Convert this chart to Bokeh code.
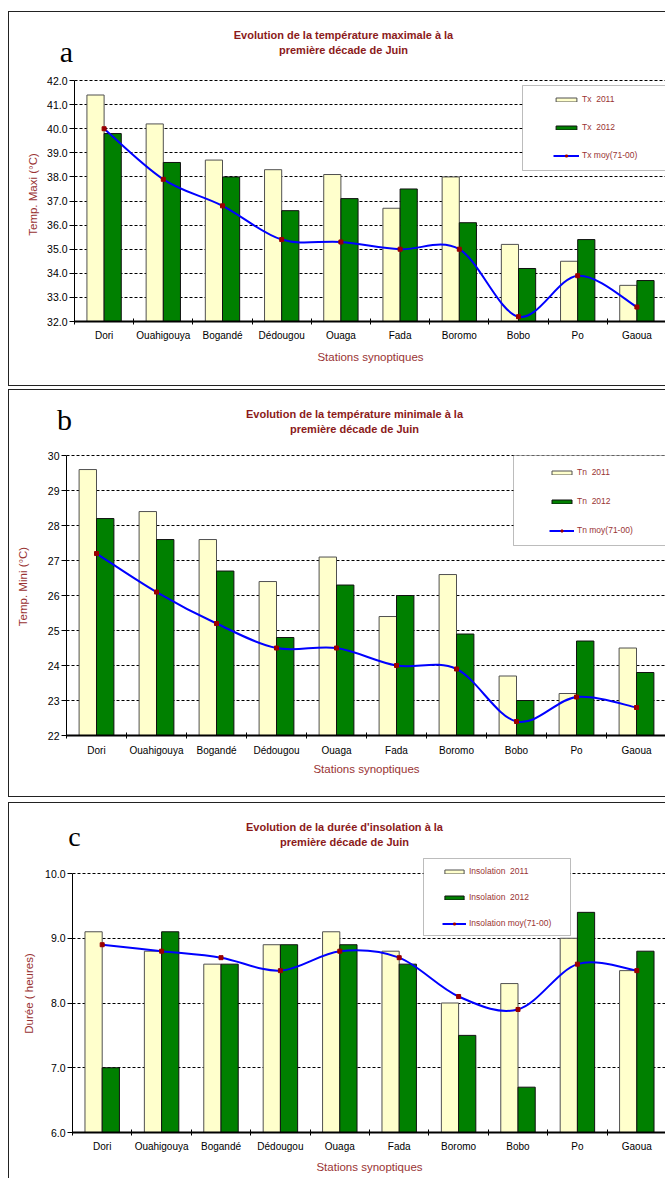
from bokeh.plotting import figure
from bokeh.layouts import column
from bokeh.models import (Range1d, FixedTicker, PrintfTickFormatter, Legend, LegendItem,
                          BoxAnnotation, Label, ColumnDataSource)
from bokeh.embed import file_html
from bokeh.resources import INLINE

# ---------------- data ----------------
stations = ["Dori", "Ouahigouya", "Bogandé", "Dédougou", "Ouaga", "Fada",
            "Boromo", "Bobo", "Po", "Gaoua"]

tx_2011 = [41.4, 40.2, 38.7, 38.3, 38.1, 36.7, 38.0, 35.2, 34.5, 33.5]
tx_2012 = [39.8, 38.6, 38.0, 36.6, 37.1, 37.5, 36.1, 34.2, 35.4, 33.7]
tx_moy = [40.0, 37.9, 36.8, 35.4, 35.3, 35.0, 35.0, 32.2, 33.9, 32.6]

tn_2011 = [29.6, 28.4, 27.6, 26.4, 27.1, 25.4, 26.6, 23.7, 23.2, 24.5]
tn_2012 = [28.2, 27.6, 26.7, 24.8, 26.3, 26.0, 24.9, 23.0, 24.7, 23.8]
tn_moy = [27.2, 26.1, 25.2, 24.5, 24.5, 24.0, 23.9, 22.4, 23.1, 22.8]

ins_2011 = [9.1, 8.8, 8.6, 8.9, 9.1, 8.8, 8.0, 8.3, 9.0, 8.5]
ins_2012 = [7.0, 9.1, 8.6, 8.9, 8.9, 8.6, 7.5, 6.7, 9.4, 8.8]
ins_moy = [8.9, 8.8, 8.7, 8.5, 8.8, 8.7, 8.1, 7.9, 8.6, 8.5]

tx_ticks = [32, 33, 34, 35, 36, 37, 38, 39, 40, 41, 42]
tn_ticks = [22, 23, 24, 25, 26, 27, 28, 29, 30]
ins_ticks = [6, 7, 8, 9, 10]

# ---------------- styles ----------------
FONT = "Liberation Sans"
SERIF = "Liberation Serif"
RED = "#993333"
TITLE_RED = "#8B1A1A"
YELLOW = "#FFFFCC"
GREEN = "#008000"
BLUE = "#0000FF"
MARK = "#990000"
EDGE = "1px solid #222222"
W = 657  # outer width (border-box), content 656


def smooth(xs, ys):
    """Bezier segments (Catmull-Rom style), like the spreadsheet's smoothed line."""
    n = len(xs)
    P = list(zip(xs, ys))
    out = dict(x0=[], y0=[], x1=[], y1=[], cx0=[], cy0=[], cx1=[], cy1=[])
    for i in range(n - 1):
        p0 = P[i - 1] if i > 0 else P[i]
        p1, p2 = P[i], P[i + 1]
        p3 = P[i + 2] if i + 2 < n else P[i + 1]
        out["x0"].append(p1[0]); out["y0"].append(p1[1])
        out["x1"].append(p2[0]); out["y1"].append(p2[1])
        out["cx0"].append(p1[0] + (p2[0] - p0[0]) / 6)
        out["cy0"].append(p1[1] + (p2[1] - p0[1]) / 6)
        out["cx1"].append(p2[0] - (p3[0] - p1[0]) / 6)
        out["cy1"].append(p2[1] - (p3[1] - p1[1]) / 6)
    return out


def make_header(cfg):
    h = figure(width=W, height=cfg["hh"], x_range=Range1d(0, 1), y_range=Range1d(0, 1),
               x_axis_location=None, y_axis_location=None, min_border=0,
               output_backend="svg", toolbar_location=None, frame_align=False,
               margin=(cfg["mtop"], 0, 0, 8),
               styles={"border-top": EDGE, "border-left": EDGE, "border-right": "0"})
    h.outline_line_color = None
    h.grid.visible = False
    tx, t1, t2 = cfg["title_pos"]
    for txt, ty in ((cfg["title"][0], t1), (cfg["title"][1], t2)):
        h.add_layout(Label(x=tx, y=ty, x_units="screen", y_units="screen", text=txt,
                           text_align="center", text_baseline="middle", text_font=FONT,
                           text_font_size="11px", text_font_style="bold",
                           text_color=TITLE_RED))
    lt, lx, ly, ls = cfg["letter"]
    h.add_layout(Label(x=lx, y=ly, x_units="screen", y_units="screen", text=lt,
                       text_align="center", text_baseline="middle", text_font=SERIF,
                       text_font_size=ls, text_color="black"))
    return h


def make_chart(cfg):
    n = len(stations)
    centers = [i + 0.5 for i in range(n)]
    ticks = cfg["ticks"]
    ymin, ymax = ticks[0], ticks[-1]
    y_end = ymax + cfg["gap"] * (ymax - ymin) / cfg["span"]
    styles = {"border-left": EDGE, "border-right": "0"}
    if cfg["bottom_edge"]:
        styles["border-bottom"] = EDGE
    p = figure(width=W, height=cfg["ch"], x_range=Range1d(0, n),
               y_range=Range1d(ymin, y_end), output_backend="svg", toolbar_location=None,
               min_border_left=cfg["mbl"], min_border_right=0, min_border_top=0,
               min_border_bottom=cfg["mbb"], margin=(0, 0, 0, 8), styles=styles,
               frame_align=False)
    p.outline_line_color = None

    src = ColumnDataSource(dict(
        xa=[c - 0.145 for c in centers], xb=[c + 0.145 for c in centers], xc=centers,
        a=cfg["a"], b=cfg["b"], m=cfg["m"]))

    r_a = p.vbar(x="xa", top="a", bottom=ymin, width=0.29, source=src,
                 fill_color=YELLOW, line_color="#505050", line_width=1)
    r_b = p.vbar(x="xb", top="b", bottom=ymin, width=0.29, source=src,
                 fill_color=GREEN, line_color="#111111", line_width=1)
    r_l = p.bezier(x0="x0", y0="y0", x1="x1", y1="y1", cx0="cx0", cy0="cy0",
                   cx1="cx1", cy1="cy1", source=ColumnDataSource(smooth(centers, cfg["m"])),
                   line_color=BLUE, line_width=2)
    r_m = p.scatter(x="xc", y="m", source=src, marker="square", size=4,
                    fill_color=MARK, line_color=MARK)

    xa = p.xaxis[0]
    xa.ticker = FixedTicker(ticks=centers, minor_ticks=list(range(n + 1)))
    xa.major_label_overrides = {c: s for c, s in zip(centers, stations)}
    xa.major_tick_in = 0
    xa.major_tick_out = 0
    xa.minor_tick_in = 3
    xa.minor_tick_out = 3
    xa.minor_tick_line_color = "black"
    xa.axis_line_color = "black"
    xa.axis_line_width = 2
    xa.major_label_standoff = cfg["xstand"]
    xa.major_label_text_font = FONT
    xa.major_label_text_font_size = "10px"
    xa.major_label_text_color = "black"
    xa.axis_label = "Stations synoptiques"
    xa.axis_label_text_font = FONT
    xa.axis_label_text_font_size = "11.5px"
    xa.axis_label_text_font_style = "normal"
    xa.axis_label_text_color = RED
    xa.axis_label_standoff = cfg["xlstand"]

    ya = p.yaxis[0]
    ya.ticker = FixedTicker(ticks=ticks)
    ya.formatter = PrintfTickFormatter(format=cfg["fmt"])
    ya.bounds = (ymin, ymax)
    ya.major_tick_in = 0
    ya.major_tick_out = 5
    ya.minor_tick_line_color = None
    ya.axis_line_color = "black"
    ya.major_label_standoff = 2
    ya.major_label_text_font = FONT
    ya.major_label_text_font_size = "10.5px"
    ya.major_label_text_color = "black"
    ya.axis_label = cfg["ylabel"]
    ya.axis_label_text_font = FONT
    ya.axis_label_text_font_size = "11.5px"
    ya.axis_label_text_font_style = "normal"
    ya.axis_label_text_color = RED
    ya.axis_label_standoff = cfg["ylstand"]

    p.xgrid.visible = False
    p.ygrid.grid_line_color = "black"
    p.ygrid.grid_line_dash = "3 2"
    p.ygrid.grid_line_width = 1

    lb = cfg["lbox"]
    p.add_layout(BoxAnnotation(left=lb[0], right=lb[1], top=lb[2], bottom=lb[3],
                               left_units="screen", right_units="screen",
                               top_units="screen", bottom_units="screen",
                               fill_color="white", fill_alpha=1,
                               line_color="#222222", line_width=1))
    leg = Legend(items=[LegendItem(label=cfg["names"][0], renderers=[r_a]),
                        LegendItem(label=cfg["names"][1], renderers=[r_b]),
                        LegendItem(label=cfg["names"][2], renderers=[r_l, r_m])],
                 location=cfg["lloc"], orientation="vertical", glyph_width=cfg["gw"],
                 glyph_height=5, label_height=5, spacing=cfg["lspace"], padding=0, margin=0,
                 label_standoff=3, label_text_font=FONT, label_text_font_size="8.5px",
                 label_text_color=RED, label_text_baseline="alphabetic",
                 border_line_color=None, background_fill_alpha=0)
    p.add_layout(leg)
    return p


# heights below are outer heights (CSS borders are drawn inside them)
# panel a  (border 11, header 12..66, chart 67..384, border 385)
ha = make_header(dict(hh=56, mtop=11, title_pos=(334, 34, 19), letter=("a", 57, 17, "30px"),
                      title=["Evolution de la température maximale à la",
                             "première décade de Juin"]))
pa = make_chart(dict(
    ch=319, mbl=65, mbb=65, gap=13, span=240, bottom_edge=True,
    a=tx_2011, b=tx_2012, m=tx_moy, ticks=tx_ticks, fmt="%.1f",
    ylabel="Temp. Maxi (°C)", xstand=5, xlstand=7, ylstand=5,
    lbox=(448, 720, 236, 151), lloc=(479, 161), gw=26, lspace=18,
    names=["Tx  2011", "Tx  2012", "Tx moy(71-00)"]))

# panel b  (border 389, header 390..436, chart 437..795, border 796)
hb = make_header(dict(hh=48, mtop=3, title_pos=(345, 25, 10), letter=("b", 55, 19, "30px"),
                      title=["Evolution de la température minimale à la",
                             "première décade de Juin"]))
pb = make_chart(dict(
    ch=360, mbl=57, mbb=62, gap=18, span=279, bottom_edge=True,
    a=tn_2011, b=tn_2012, m=tn_moy, ticks=tn_ticks, fmt="%d",
    ylabel="Temp. Mini (°C)", xstand=6, xlstand=4, ylstand=16,
    lbox=(447, 720, 280, 190), lloc=(483, 200), gw=25, lspace=19,
    names=["Tn  2011", "Tn  2012", "Tn moy(71-00)"]))

# panel c  (border 802, header 803..853, chart 854..1177)
hc = make_header(dict(hh=52, mtop=5, title_pos=(335, 29, 14), letter=("c", 65, 19, "28px"),
                      title=["Evolution de la durée d'insolation à la",
                             "première décade de Juin"]))
pc = make_chart(dict(
    ch=324, mbl=63, mbb=46, gap=19, span=259, bottom_edge=False,
    a=ins_2011, b=ins_2012, m=ins_moy, ticks=ins_ticks, fmt="%.1f",
    ylabel="Durée ( heures)", xstand=5, xlstand=6, ylstand=7,
    lbox=(351, 498, 274, 197), lloc=(370, 204), gw=24, lspace=16,
    names=["Insolation  2011", "Insolation  2012", "Insolation moy(71-00)"]))

layout = column(ha, pa, hb, pb, hc, pc, spacing=0)
open("out.html", "w").write(file_html(layout, INLINE))
